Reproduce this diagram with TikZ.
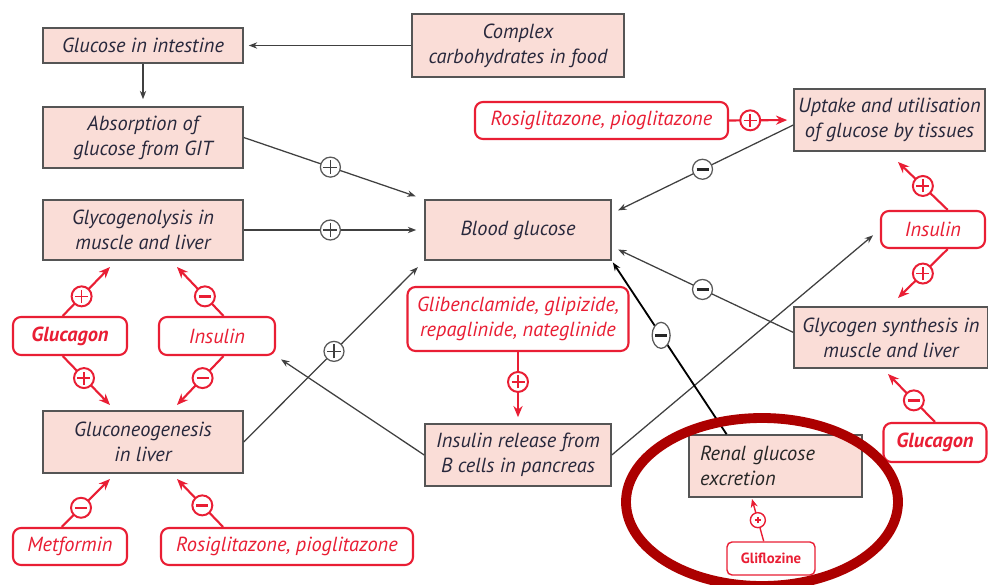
\documentclass[tikz,border=0pt]{standalone}
\usepackage{fontspec}
\setmainfont{PT Sans}
\usetikzlibrary{arrows.meta,calc,shapes.geometric}

\definecolor{boxfill}{RGB}{250,221,215}
\definecolor{boxline}{RGB}{85,85,85}
\definecolor{boxtext}{RGB}{40,40,60}
\definecolor{drugred}{RGB}{233,30,52}
\definecolor{ringred}{RGB}{172,0,0}

\newdimen\pxl \pxl=0.025cm

\tikzset{
  proc/.style={draw=boxline, line width=1.1pt, fill=boxfill, text=boxtext, inner sep=0pt,
    align=center, font=\fontsize{14.5}{17.8}\selectfont\itshape},
  drug/.style={draw=drugred, line width=1.5pt, fill=white, rounded corners=8\pxl, text=drugred,
    inner sep=0pt, align=center, font=\fontsize{14.5}{17.8}\selectfont\itshape},
  link/.style={draw=black!75, line width=0.9pt, -{Stealth[length=6pt,width=4.5pt]}},
  redlink/.style={draw=drugred, line width=1.5pt, -{Stealth[length=8pt,width=6.5pt]}},
  bar/.style={arrows=-, shorten >=0pt, shorten <=0pt},
  sgn/.style={circle, inner sep=0pt, minimum size=20\pxl, fill=white},
  bplus/.style={sgn, draw=black!65, line width=0.9pt,
    path picture={\draw[bar, black!75, line width=0.8pt] (path picture bounding box.center)
      +(-7\pxl,0) -- +(7\pxl,0) +(0,-7\pxl) -- +(0,7\pxl);}},
  bminus/.style={sgn, draw=black!65, line width=0.9pt,
    path picture={\draw[bar, black!85, line width=2pt] (path picture bounding box.center)
      +(-6\pxl,0) -- +(6\pxl,0);}},
  bminusov/.style={bminus, ellipse, minimum width=18\pxl, minimum height=26\pxl},
  rplus/.style={sgn, draw=drugred, line width=1.4pt,
    path picture={\draw[bar, drugred, line width=1.1pt] (path picture bounding box.center)
      +(-6.5\pxl,0) -- +(6.5\pxl,0) +(0,-6.5\pxl) -- +(0,6.5\pxl);}},
  rminus/.style={sgn, draw=drugred, line width=1.4pt,
    path picture={\draw[bar, drugred, line width=1.8pt] (path picture bounding box.center)
      +(-6\pxl,0) -- +(6\pxl,0);}},
  rdot/.style={circle, inner sep=0pt, minimum size=15\pxl, fill=white, draw=drugred, line width=1pt,
    path picture={\draw[bar, drugred, line width=1.3pt] (path picture bounding box.center)
      +(-3\pxl,0) -- +(3\pxl,0) +(0,-3\pxl) -- +(0,3\pxl);}},
}

\begin{document}
\begin{tikzpicture}[x=0.025cm, y=-0.025cm]
\useasboundingbox (0,0) rectangle (988,585);

% pathway boxes
\node[proc, minimum width=200\pxl, minimum height=35\pxl] (gint) at (143,45.5) {Glucose in intestine};
\node[proc, minimum width=212\pxl, minimum height=63\pxl] (carbs) at (518,45.5) {Complex\\carbohydrates in food};
\node[proc, minimum width=200\pxl, minimum height=61\pxl] (absorb) at (143,137.5) {Absorption of\\glucose from GIT};
\node[proc, minimum width=200\pxl, minimum height=60\pxl] (glgly) at (143,230) {Glycogenolysis in\\muscle and liver};
\node[proc, minimum width=200\pxl, minimum height=62\pxl] (gneo) at (143,442) {Gluconeogenesis\\in liver};
\node[proc, minimum width=186\pxl, minimum height=60\pxl] (blood) at (518,230) {Blood glucose};
\node[proc, minimum width=186\pxl, minimum height=62\pxl] (insrel) at (518,455) {Insulin release from\\B cells in pancreas};
\node[proc, minimum width=191\pxl, minimum height=62\pxl] (uptake) at (889.5,120) {Uptake and utilisation\\of glucose by tissues};
\node[proc, minimum width=194\pxl, minimum height=61\pxl] (glsyn) at (891,337.5) {Glycogen synthesis in\\muscle and liver};
\node[proc, minimum width=173\pxl, minimum height=62\pxl, align=left, text width=151\pxl, text=black!85] (renal) at (775.5,466) {Renal glucose\\excretion};

% drugs and hormones
\node[drug, minimum width=221\pxl, minimum height=64\pxl] (gliben) at (518,319) {Glibenclamide, glipizide,\\repaglinide, nateglinide};
\node[drug, minimum width=253\pxl, minimum height=37\pxl] (rositop) at (601.5,120.5) {Rosiglitazone, pioglitazone};
\node[drug, minimum width=104\pxl, minimum height=37\pxl] (insright) at (933,229.5) {Insulin};
\node[drug, minimum width=103\pxl, minimum height=39\pxl, font=\fontsize{14.5}{17.8}\selectfont\bfseries\itshape] (glucright) at (935,442.5) {Glucagon};
\node[drug, minimum width=114\pxl, minimum height=38\pxl, font=\fontsize{14.5}{17.8}\selectfont\bfseries\itshape] (glucleft) at (70,336) {Glucagon};
\node[drug, minimum width=116\pxl, minimum height=38\pxl] (insleft) at (217,336) {Insulin};
\node[drug, minimum width=114\pxl, minimum height=37\pxl] (metf) at (70,546.5) {Metformin};
\node[drug, minimum width=252\pxl, minimum height=37\pxl] (rosibot) at (287,546.5) {Rosiglitazone, pioglitazone};
\node[drug, minimum width=88\pxl, minimum height=33\pxl, line width=1pt, rounded corners=5\pxl,
  font=\fontsize{10.5}{12}\selectfont\bfseries] (glif) at (771,558.5) {Gliflozine};

% free ends of the red arrows
\coordinate (upin) at (898,162);
\coordinate (synin) at (898,298);
\coordinate (synin2) at (888,374);
\coordinate (glyin1) at (110,267);
\coordinate (glyin2) at (177,267);
\coordinate (neoin1) at (110,405);
\coordinate (neoin2) at (177,405);
\coordinate (neoin3) at (110,479);
\coordinate (neoin4) at (177,479);
\coordinate (renin) at (752,499);

% black connectors
\draw[link, shorten >=5\pxl] (carbs) -- (gint);
\draw[link, shorten >=7\pxl] (gint) -- (absorb);
\draw[link, shorten >=9\pxl] (absorb.east) -- node[bplus, pos=0.48]{} (blood.north west);
\draw[link, shorten >=8\pxl] (glgly) -- node[bplus, pos=0.48]{} (blood);
\draw[link, shorten >=9\pxl] (gneo.east) -- node[bplus, pos=0.5]{} (blood.south west);
\draw[link, shorten >=6\pxl] (insrel.west) -- (insleft.south east);
\draw[link, shorten >=9\pxl] (insrel.east) -- (insright.west);
\draw[link, shorten >=7\pxl] (uptake.183) -- node[bminus]{} (blood.10);
\draw[link, shorten >=7\pxl] (glsyn.177) -- node[bminus]{} (blood.-10);
\draw[link, draw=black, line width=1.3pt, shorten >=2\pxl] (renal.147) -- node[bminusov, pos=0.57]{} (blood.south east);

% red connectors
\draw[redlink, shorten >=6\pxl] (rositop.east) -- node[rplus, pos=0.33]{} (uptake.west);
\draw[redlink] (insright.53) -- node[rplus]{} (upin);
\draw[redlink] (insright.-53) -- node[rplus]{} (synin);
\draw[redlink] (glucright.north) -- node[rminus, pos=0.45]{} (synin2);
\draw[redlink] (glucleft.110) -- node[rplus, pos=0.4]{} (glyin1);
\draw[redlink] (insleft.72) -- node[rminus, pos=0.4]{} (glyin2);
\draw[redlink] (glucleft.-110) -- node[rplus, pos=0.45]{} (neoin1);
\draw[redlink] (insleft.-72) -- node[rminus, pos=0.45]{} (neoin2);
\draw[redlink] (metf.113) -- node[rminus, pos=0.4]{} (neoin3);
\draw[redlink] (rosibot.163) -- node[rminus, pos=0.45]{} (neoin4);
\draw[redlink, shorten >=6\pxl] (gliben) -- node[rplus, pos=0.42]{} (insrel);
\draw[redlink, line width=1pt, -{Stealth[length=6pt,width=5pt]}] (glif.113) -- node[rdot]{} (renin);

% highlight ring
\draw[ringred, line width=7pt] (762,502) ellipse [x radius=136, y radius=84];

\end{tikzpicture}
\end{document}
